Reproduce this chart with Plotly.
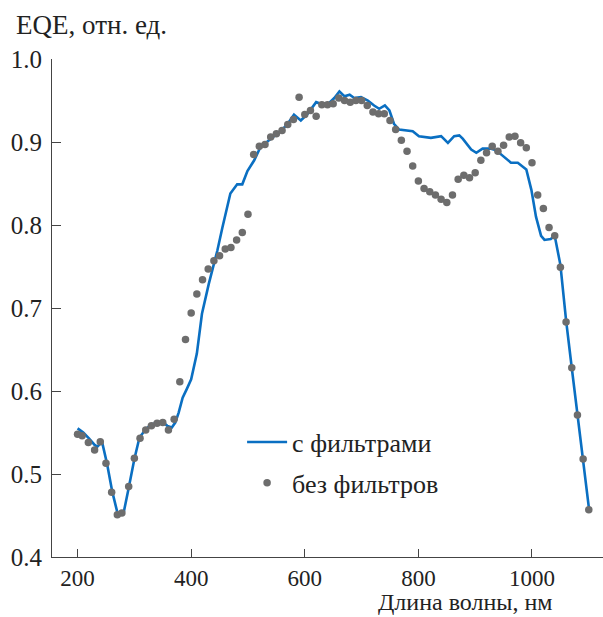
import plotly.graph_objects as go

# with filters (blue line)
wl_line = [200, 210, 220, 230, 235, 243, 252, 261, 271, 281, 290, 300, 309, 319, 328, 340, 349, 358,
           366, 372, 378, 385, 392, 400, 410, 419, 431, 446, 455, 469, 481, 490, 499, 511, 522, 540,
           557, 569, 581, 593, 605, 620, 628, 643, 652, 661, 670, 679, 687, 699, 711, 722, 731, 741,
           749, 757, 766, 790, 801, 822, 840, 852, 863, 872, 878, 893, 902, 913, 928, 937, 951, 963,
           975, 990, 999, 1007, 1016, 1022, 1033, 1040, 1050, 1060, 1070, 1080, 1090, 1100]
eqe_line = [0.555, 0.550, 0.543, 0.535, 0.533, 0.539, 0.512, 0.479, 0.451, 0.453, 0.483, 0.518, 0.544,
            0.553, 0.559, 0.562, 0.563, 0.558, 0.556, 0.562, 0.574, 0.592, 0.602, 0.614, 0.645, 0.693,
            0.729, 0.769, 0.797, 0.838, 0.849, 0.849, 0.865, 0.878, 0.894, 0.904, 0.913, 0.921, 0.933,
            0.926, 0.934, 0.948, 0.946, 0.947, 0.953, 0.961, 0.955, 0.957, 0.953, 0.954, 0.950, 0.944,
            0.940, 0.944, 0.938, 0.922, 0.915, 0.913, 0.907, 0.905, 0.907, 0.899, 0.907, 0.908, 0.904,
            0.891, 0.887, 0.892, 0.892, 0.890, 0.882, 0.875, 0.875, 0.867, 0.842, 0.810, 0.787, 0.782,
            0.783, 0.787, 0.752, 0.685, 0.628, 0.571, 0.518, 0.460]

# without filters (grey dots)
wl_pts = [200, 208, 219, 230, 240, 250, 260, 270, 278, 290, 300, 310, 320, 330, 340, 350, 360, 370,
          380, 390, 400, 410, 420, 430, 440, 450, 460, 470, 480, 490, 500, 510, 520, 530, 540, 550,
          560, 570, 580, 590, 600, 610, 620, 630, 640, 650, 660, 670, 680, 690, 700, 710, 720, 730,
          740, 750, 760, 770, 780, 790, 800, 810, 820, 830, 840, 850, 860, 870, 880, 890, 900, 910,
          920, 930, 940, 950, 960, 970, 980, 990, 1000, 1010, 1020, 1030, 1040, 1050, 1060, 1070,
          1080, 1090, 1100]
eqe_pts = [0.548, 0.546, 0.538, 0.529, 0.539, 0.513, 0.478, 0.451, 0.453, 0.485, 0.519, 0.543, 0.553,
           0.558, 0.561, 0.562, 0.553, 0.566, 0.611, 0.662, 0.694, 0.717, 0.734, 0.747, 0.757, 0.763,
           0.771, 0.773, 0.782, 0.791, 0.813, 0.885, 0.895, 0.897, 0.906, 0.910, 0.914, 0.921, 0.927,
           0.954, 0.933, 0.938, 0.931, 0.945, 0.945, 0.946, 0.953, 0.950, 0.948, 0.950, 0.950, 0.944,
           0.936, 0.934, 0.934, 0.926, 0.915, 0.902, 0.889, 0.871, 0.853, 0.844, 0.840, 0.836, 0.831,
           0.827, 0.836, 0.855, 0.860, 0.857, 0.863, 0.878, 0.887, 0.895, 0.889, 0.896, 0.906, 0.907,
           0.899, 0.893, 0.875, 0.836, 0.820, 0.797, 0.787, 0.749, 0.683, 0.628, 0.571, 0.518, 0.457]

x_ticks = [200, 400, 600, 800, 1000]
y_ticks = [0.4, 0.5, 0.6, 0.7, 0.8, 0.9, 1.0]
y_tick_text = ["0.4", "0.5", "0.6", "0.7", "0.8", "0.9", "1.0"]

FONT = "Liberation Serif"
AX = "#444444"
TXT = "#222222"

fig = go.Figure()
fig.add_trace(go.Scatter(x=wl_line, y=eqe_line, mode="lines", name="с фильтрами",
                         line=dict(color="#0a6fc2", width=2.6), legendgroup="a"))
fig.add_trace(go.Scatter(x=wl_pts, y=eqe_pts, mode="markers", name="без фильтров",
                         marker=dict(color="#6d6d6d", size=7.5), legendgroup="b"))

fig.update_layout(
    width=603, height=617,
    margin=dict(l=52, r=0, t=59, b=60),
    paper_bgcolor="white", plot_bgcolor="white",
    font=dict(family=FONT, size=25, color=TXT),
    showlegend=True,
    legend=dict(x=0.345, y=0.278, xanchor="left", yanchor="top", bgcolor="rgba(0,0,0,0)",
                font=dict(family=FONT, size=26, color=TXT),
                traceorder="grouped", tracegroupgap=4, itemwidth=40),
    xaxis=dict(range=[155, 1125], tickvals=x_ticks, ticks="inside", ticklen=8, tickwidth=1,
               tickcolor=AX, showline=True, linecolor=AX, linewidth=1.2, showgrid=False,
               zeroline=False, ticklabelstandoff=0,
               tickfont=dict(family=FONT, size=23, color=TXT)),
    yaxis=dict(range=[0.4, 1.0], tickvals=y_ticks, ticktext=y_tick_text, ticks="inside",
               ticklen=9, tickwidth=1, tickcolor=AX, showline=True, linecolor=AX, linewidth=1.2,
               showgrid=False, zeroline=False, ticklabelstandoff=4,
               tickfont=dict(family=FONT, size=25, color=TXT)),
    annotations=[
        dict(text="EQE, отн. ед.", xref="paper", yref="paper", x=-38/551, y=1 + 34/498,
             xanchor="left", yanchor="middle", showarrow=False,
             font=dict(family=FONT, size=27, color=TXT)),
        dict(text="Длина волны, нм", xref="paper", yref="paper", x=503/551, y=-60/498,
             xanchor="right", yanchor="bottom", showarrow=False,
             font=dict(family=FONT, size=24, color=TXT)),
    ],
)

fig.write_html("out.html")
